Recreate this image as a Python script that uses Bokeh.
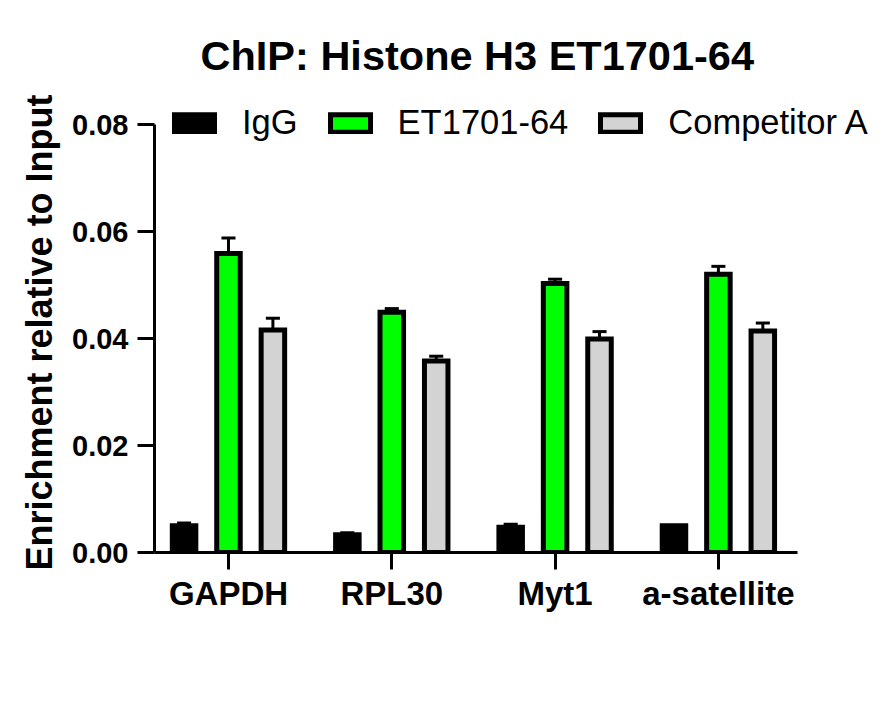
from bokeh.plotting import figure
from bokeh.models import Range1d, FixedTicker, Legend, LegendItem, ColumnDataSource, Title
from bokeh.embed import file_html
from bokeh.resources import INLINE

categories = ["GAPDH", "RPL30", "Myt1", "a-satellite"]
series_names = ["IgG", "ET1701-64", "Competitor A"]
igg = [0.0050, 0.0033, 0.0047, 0.0050]
igg_err = [0.0005, 0.0004, 0.0006, 0.0]
et = [0.0559, 0.0449, 0.0503, 0.0520]
et_err = [0.0029, 0.0007, 0.0008, 0.0015]
comp = [0.0416, 0.0358, 0.0399, 0.0414]
comp_err = [0.0022, 0.0009, 0.0014, 0.0015]
y_ticks = [0.0, 0.02, 0.04, 0.06, 0.08]
y_tick_labels = ["0.00", "0.02", "0.04", "0.06", "0.08"]
y_label = "Enrichment relative to Input"

colors = ["#000000", "#00FF00", "#D3D3D3"]
offsets = [-0.272, 0.0, 0.272]
bar_w = 0.144
cap_half = 0.043
FONT = "Liberation Sans"

p = figure(width=880, height=703, output_backend="svg", toolbar_location=None,
           x_range=Range1d(-0.453, 3.962), y_range=Range1d(0, 0.0875),
           min_border_left=154, min_border_right=5, min_border_top=84,
           min_border_bottom=151)
p.title.text = "ChIP: Histone H3 ET1701-64"
p.title.text_font = FONT
p.title.text_font_size = "41.5px"
p.title.text_font_style = "bold"
p.title.align = "left"
p.title.offset = 46
p.title.standoff = 12
p.title.text_color = "#000000"

renderers = []
for vals, errs, col, off in zip([igg, et, comp], [igg_err, et_err, comp_err], colors, offsets):
    xs = [i + off for i in range(len(categories))]
    tops = [v + e for v, e in zip(vals, errs)]
    src = ColumnDataSource(dict(x=xs, top=vals, etop=tops,
                                cx0=[x - cap_half for x in xs], cx1=[x + cap_half for x in xs]))
    p.segment(x0="x", y0="top", x1="x", y1="etop", source=src, line_color="black", line_width=3)
    p.segment(x0="cx0", y0="etop", x1="cx1", y1="etop", source=src, line_color="black", line_width=3)
    r = p.vbar(x="x", top="top", bottom=0, width=bar_w, source=src,
               fill_color=col, line_color="black", line_width=5, line_join="miter")
    renderers.append(r)

p.xaxis.ticker = FixedTicker(ticks=list(range(len(categories))))
p.xaxis.major_label_overrides = {i: c for i, c in enumerate(categories)}
p.xaxis.bounds = (-0.453, 3.484)
p.yaxis.ticker = FixedTicker(ticks=y_ticks)
p.yaxis.major_label_overrides = {t: l for t, l in zip(y_ticks, y_tick_labels)}
p.yaxis.bounds = (0, 0.08)

for ax in [p.xaxis[0], p.yaxis[0]]:
    ax.axis_line_width = 3
    ax.axis_line_color = "black"
    ax.major_tick_line_width = 3
    ax.major_tick_line_color = "black"
    ax.major_tick_out = 17
    ax.major_tick_in = 0
    ax.minor_tick_line_color = None
    ax.major_label_text_font = FONT
    ax.major_label_text_font_style = "bold"
    ax.major_label_text_color = "black"

p.xaxis.major_label_text_font_size = "33px"
p.xaxis.major_label_standoff = 5
p.yaxis.major_label_text_font_size = "29px"
p.yaxis.major_label_standoff = 9

ylab = Title(text=y_label, align="left", offset=-18, standoff=19,
             text_font=FONT, text_font_size="36px", text_font_style="bold", text_color="black")
p.add_layout(ylab, "left")

p.xgrid.grid_line_color = None
p.ygrid.grid_line_color = None
p.outline_line_color = None

legend = Legend(items=[LegendItem(label=n, renderers=[r]) for n, r in zip(series_names, renderers)],
                orientation="horizontal", location=(15, 410))
legend.padding = 0
legend.margin = 0
legend.spacing = 27
legend.label_standoff = 23
legend.glyph_width = 50
legend.glyph_height = 22
legend.label_text_font = FONT
legend.label_text_font_size = "34.5px"
legend.label_text_color = "black"
legend.border_line_color = None
legend.background_fill_alpha = 0
p.add_layout(legend, "center")

open("out.html", "w").write(file_html(p, INLINE))
